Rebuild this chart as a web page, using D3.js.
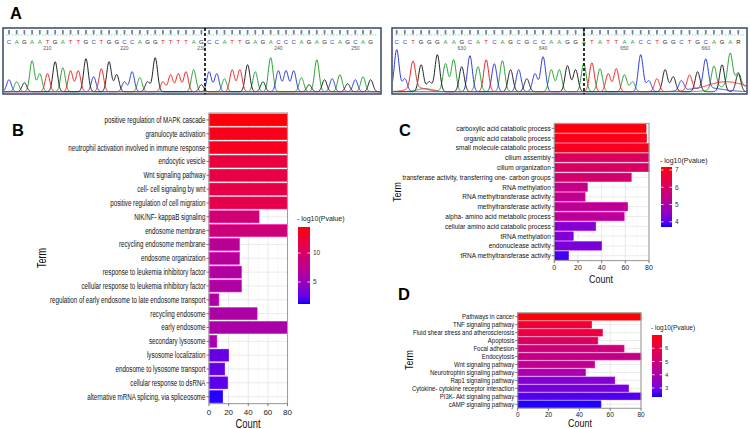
<!DOCTYPE html>
<html><head><meta charset="utf-8">
<script src="https://cdn.jsdelivr.net/npm/d3@7"></script>
<style>body{margin:0;background:#fff} text{font-family:"Liberation Sans",Arial,sans-serif}</style>
</head><body><svg id="c" width="750" height="429"></svg>
<script>
// ---------- Panel A data (Sanger chromatograms) ----------
const seqLeft = "CAGAATGATTGCTGGCCAGGTTTTAGCCATTGAGACCCAGAGCAGCAG";
const heightsLeft = [12,10,9,31,18,18,30,24,21,21,33,15,23,30,17,10,20,14,10,34,10,17,18,20,22,7,20,18,13,22,22,27,20,10,34,21,21,21,14,7,32,12,13,17,8,12,15,12];
const firstPosLeft = 205;
const posLabelsLeft = [210,220,230,240,250];
const seqRight = "CCTGGGAAGCATCAGCGCCAAGGATATTAACCTGGCTGCAGAR";
const heightsRight = [42,13,27,27,10,37,28,32,25,36,25,32,28,31,22,22,13,18,35,22,22,26,22,28,29,23,18,23,17,10,37,11,13,22,15,10,15,20,29,23,27,32,18];
const firstPosRight = 622;
const posLabelsRight = [630,640,650,660];
// broad background waves in right trace: [base, index, height, width]
const bumpsRight = [["T",2.5,4,1.2],["A",3.5,3,1.0],["T",40.5,10,2.4],["A",41.5,7,1.8],["C",38,4,2.0]];

// ---------- Panel B data ----------
const termsB = ["positive regulation of MAPK cascade","granulocyte activation","neutrophil activation involved in immune response","endocytic vesicle","Wnt signaling pathway","cell- cell signaling by wnt","positive regulation of cell migration","NIK/NF- kappaB signaling","endosome membrane","recycling endosome membrane","endosome organization","response to leukemia inhibitory factor","cellular response to leukemia inhibitory factor","regulation of early endosome to late endosome transport","recycling endosome","early endosome","secondary lysosome","lysosome localization","endosome to lysosome transport","cellular response to dsRNA","alternative mRNA splicing, via spliceosome"];
const countsB = [80,80,80,80,80,80,80,51,80,31,31,33,33,10,49,80,8,20,16,19,14];
const pvalsB = [14.3,13.8,13.6,12.1,11.8,11.7,11.5,9.0,8.8,7.1,6.9,6.5,6.4,6.3,6.2,6.0,5.7,2.7,2.6,2.4,1.4];
const legendTicksB = [5,10];

// ---------- Panel C data ----------
const termsC = ["carboxylic acid catabolic process","organic acid catabolic process","small molecule catabolic process","cilium assembly","cilium organization","transferase activity, transferring one- carbon groups","RNA methylation","RNA methyltransferase activity","methyltransferase activity","alpha- amino acid metabolic process","cellular amino acid catabolic process","tRNA methylation","endonuclease activity","tRNA methyltransferase activity"];
const countsC = [77.5,78,80,80,80,65,28,26,62,59,35,16,40,12];
const pvalsC = [7.1,7.0,6.95,6.1,6.0,5.85,5.45,5.4,5.3,5.25,4.4,4.35,4.3,3.85];
const legendTicksC = [4,5,6,7];

// ---------- Panel D data ----------
const termsD = ["Pathways in cancer","TNF signaling pathway","Fluid shear stress and atherosclerosis","Apoptosis","Focal adhesion","Endocytosis","Wnt signaling pathway","Neurotrophin signaling pathway","Rap1 signaling pathway","Cytokine- cytokine receptor interaction","PI3K- Akt signaling pathway","cAMP signaling pathway"];
const countsD = [80,48,55,52,69,80,50,44,63,72,80,54];
const pvalsD = [6.95,6.3,6.1,5.5,5.0,4.7,4.55,4.0,3.25,3.05,2.65,2.38];
const legendTicksD = [3,4,5,6];

const countTicks = [0,20,40,60,80];

const svg = d3.select("#c");
const defs = svg.append("defs");
const baseColor = {A:"#27a334", C:"#2d3de0", G:"#202020", T:"#ee2424", R:"#202020"};

function chromatogram(o){
  const g = svg.append("g");
  const seq = o.seq.split("");
  const n = seq.length;
  const x = d3.scaleLinear().domain([0, n-1]).range(o.xr);
  const y = d3.scaleLinear().domain([0,40]).range([91.7, 51.7]);
  const cid = "clip" + o.id;
  defs.append("clipPath").attr("id", cid).append("rect")
    .attr("x", o.box[0]+1).attr("y", 29).attr("width", o.box[1]-o.box[0]-2).attr("height", 64);
  g.append("rect").attr("x",o.box[0]).attr("y",28).attr("width",o.box[1]-o.box[0]).attr("height",66)
    .attr("fill","#fff").attr("stroke","#34456a").attr("stroke-width",1.5);
  g.append("line").attr("x1",o.box[0]+3).attr("x2",o.box[1]-3).attr("y1",35).attr("y2",35)
    .attr("stroke","#5cd0d0").attr("stroke-dasharray","1.5,1.5").attr("stroke-width",0.8);
  g.selectAll(".q").data(seq).join("path")
    .attr("d",(d,i)=>`M${x(i)-0.9},30 h1.8 v3.5 l-0.9,1.6 l-0.9,-1.6 z`).attr("fill","#808080");
  g.selectAll(".b").data(seq).join("text")
    .attr("x",(d,i)=>x(i)).attr("y",43.5).attr("text-anchor","middle").attr("font-size",6)
    .attr("fill",d=>d==="R"?"#202020":baseColor[d]).text(d=>d);
  g.selectAll(".n").data(o.labels).join("text")
    .attr("x",d=>x(d-o.first)).attr("y",49.5).attr("text-anchor","middle").attr("font-size",5)
    .attr("fill","#555").text(d=>d);
  const tg = g.append("g").attr("clip-path",`url(#${cid})`);
  const samples = d3.range(-1.2, n+0.2, 0.04);
  ["A","C","G","T"].forEach(ch=>{
    const peaks = [];
    seq.forEach((b,i)=>{
      if (b===ch) peaks.push([i,o.heights[i],0.3]);
      else if (b==="R" && ch==="G") peaks.push([i,o.heights[i],0.3]);
      else if (b==="R" && ch==="A") peaks.push([i,o.heights[i]*0.7,0.3]);
    });
    (o.bumps||[]).filter(b=>b[0]===ch).forEach(b=>peaks.push([b[1],b[2],b[3]]));
    const line = d3.line().x(s=>x(s)).y(s=>y(d3.sum(peaks,p=>p[1]*Math.exp(-((s-p[0])**2)/(2*p[2]*p[2])))));
    tg.append("path").attr("d",line(samples)).attr("fill","none")
      .attr("stroke",baseColor[ch]).attr("stroke-width",1);
  });
  g.append("line").attr("x1",o.dash).attr("x2",o.dash).attr("y1",28).attr("y2",94)
    .attr("stroke","#000").attr("stroke-width",1.6).attr("stroke-dasharray","3,2");
}

chromatogram({id:"L", seq:seqLeft, heights:heightsLeft, xr:[9,370.7], box:[3,381], dash:205, first:firstPosLeft, labels:posLabelsLeft});
chromatogram({id:"R", seq:seqRight, heights:heightsRight, xr:[396.7,738.3], box:[392,747], dash:584, first:firstPosRight, labels:posLabelsRight, bumps:bumpsRight});

function barPanel(o){
  const g = svg.append("g");
  const x = d3.scaleLinear().domain([0,80]).range([o.x0,o.x1]);
  const y = d3.scaleBand().domain(o.terms).range([o.y0,o.y1]).paddingInner(0.14).paddingOuter(0.07);
  const col = d3.scaleLinear().domain(o.domain).range(["#0000ff","#ff0000"]).interpolate(d3.interpolateLab);
  // grid
  g.selectAll(".gm").data([10,30,50,70]).join("line")
    .attr("x1",d=>x(d)).attr("x2",d=>x(d)).attr("y1",o.y0).attr("y2",o.y1).attr("stroke","#f1f1f1").attr("stroke-width",0.5);
  g.selectAll(".gM").data(countTicks).join("line")
    .attr("x1",d=>x(d)).attr("x2",d=>x(d)).attr("y1",o.y0).attr("y2",o.y1).attr("stroke","#e2e2e2").attr("stroke-width",0.8);
  g.selectAll(".gh").data(o.terms).join("line")
    .attr("x1",o.x0).attr("x2",o.x1).attr("y1",d=>y(d)+y.bandwidth()/2).attr("y2",d=>y(d)+y.bandwidth()/2)
    .attr("stroke","#e6e6e6").attr("stroke-width",0.8);
  // bars
  g.selectAll(".bar").data(o.terms).join("rect")
    .attr("x",x(0)).attr("y",d=>y(d)).attr("height",y.bandwidth())
    .attr("width",(d,i)=>x(Math.min(o.counts[i],80))-x(0))
    .attr("fill",(d,i)=>col(o.pvals[i]))
    .attr("stroke",(d,i)=>d3.color(col(o.pvals[i])).brighter(0.7)).attr("stroke-width",0.6);
  // border
  g.append("rect").attr("x",o.x0).attr("y",o.y0).attr("width",o.x1-o.x0).attr("height",o.y1-o.y0)
    .attr("fill","none").attr("stroke","#9e9e9e").attr("stroke-width",1.1);
  // y ticks + labels
  g.selectAll(".yt").data(o.terms).join("line")
    .attr("x1",o.x0-2.5).attr("x2",o.x0).attr("y1",d=>y(d)+y.bandwidth()/2).attr("y2",d=>y(d)+y.bandwidth()/2)
    .attr("stroke","#444").attr("stroke-width",0.7);
  g.selectAll(".yl").data(o.terms).join("text")
    .attr("transform",d=>`translate(${o.x0-3.5},${y(d)+y.bandwidth()/2}) scale(${o.sx},1)`)
    .attr("text-anchor","end").attr("dy","0.35em").attr("font-size",o.lf).attr("fill","#111").text(d=>d);
  // x ticks
  g.selectAll(".xt").data(countTicks).join("line")
    .attr("x1",d=>x(d)).attr("x2",d=>x(d)).attr("y1",o.y1).attr("y2",o.y1+2.5).attr("stroke","#444").attr("stroke-width",0.7);
  g.selectAll(".xl").data(countTicks).join("text")
    .attr("x",d=>x(d)).attr("y",o.tickY).attr("text-anchor","middle").attr("font-size",o.tf).attr("fill","#222").text(d=>d);
  // titles
  g.append("text").attr("transform",`translate(${o.count[0]},${o.count[1]}) scale(${o.csx},1)`)
    .attr("text-anchor","middle").attr("font-size",o.count[2]).attr("fill","#111").text("Count");
  g.append("text").attr("transform",`translate(${o.term[0]},${o.term[1]}) rotate(-90) scale(${o.csx},1)`)
    .attr("text-anchor","middle").attr("dy","0.35em").attr("font-size",o.term[2]).attr("fill","#111").text("Term");
  // legend
  const L = o.legend;
  const gid = "grad"+o.id;
  const grad = defs.append("linearGradient").attr("id",gid).attr("x1",0).attr("x2",0).attr("y1",1).attr("y2",0);
  d3.range(0,1.0001,0.05).forEach(t=>{
    grad.append("stop").attr("offset",t).attr("stop-color",col(o.domain[0]+t*(o.domain[1]-o.domain[0])));
  });
  g.append("text").attr("x",L.tx).attr("y",L.ty).attr("font-size",L.tfs).attr("fill","#222").text("- log10(Pvalue)");
  g.append("rect").attr("x",L.x).attr("y",L.y).attr("width",L.w).attr("height",L.h).attr("fill",`url(#${gid})`);
  const ly = d3.scaleLinear().domain(o.domain).range([L.y+L.h, L.y]);
  o.lticks.forEach(t=>{
    g.append("line").attr("x1",L.x).attr("x2",L.x+2.5).attr("y1",ly(t)).attr("y2",ly(t)).attr("stroke","#fff").attr("stroke-width",0.8);
    g.append("line").attr("x1",L.x+L.w-2.5).attr("x2",L.x+L.w).attr("y1",ly(t)).attr("y2",ly(t)).attr("stroke","#fff").attr("stroke-width",0.8);
    g.append("text").attr("x",L.x+L.w+3).attr("y",ly(t)).attr("dy","0.35em").attr("font-size",L.lfs).attr("fill","#333").text(t);
  });
}

barPanel({id:"B", terms:termsB, counts:countsB, pvals:pvalsB, domain:[1.2,14.5], lticks:legendTicksB,
  x0:209, x1:287.5, y0:113, y1:403.6, lf:8.5, sx:0.73, tf:8, tickY:415, csx:0.75,
  count:[248,428,12.5], term:[42,258,12],
  legend:{x:298,y:227,w:12,h:77,tx:297,ty:221,tfs:7,lfs:6.5}});
barPanel({id:"C", terms:termsC, counts:countsC, pvals:pvalsC, domain:[3.7,7.17], lticks:legendTicksC,
  x0:554.3, x1:649, y0:123.4, y1:260.6, lf:7, sx:0.93, tf:7, tickY:270, csx:0.85,
  count:[601,283,10.5], term:[397.5,192,10.5],
  legend:{x:661,y:167,w:11,h:60,tx:660,ty:163,tfs:7,lfs:6.5}});
barPanel({id:"D", terms:termsD, counts:countsD, pvals:pvalsD, domain:[2.32,7], lticks:legendTicksD,
  x0:517.7, x1:641, y0:312.7, y1:408.3, lf:7, sx:0.86, tf:6.5, tickY:417, csx:0.85,
  count:[580,427,10.5], term:[409,360,10.5],
  legend:{x:652,y:335,w:10,h:62,tx:651,ty:330,tfs:6.5,lfs:6}});

// panel letters
[["A",10,19],["B",12,136],["C",399,136],["D",398,300]].forEach(p=>{
  svg.append("text").attr("x",p[1]).attr("y",p[2]).attr("font-size",16.5).attr("font-weight","bold")
    .attr("fill","#000").text(p[0]);
});
</script></body></html>
